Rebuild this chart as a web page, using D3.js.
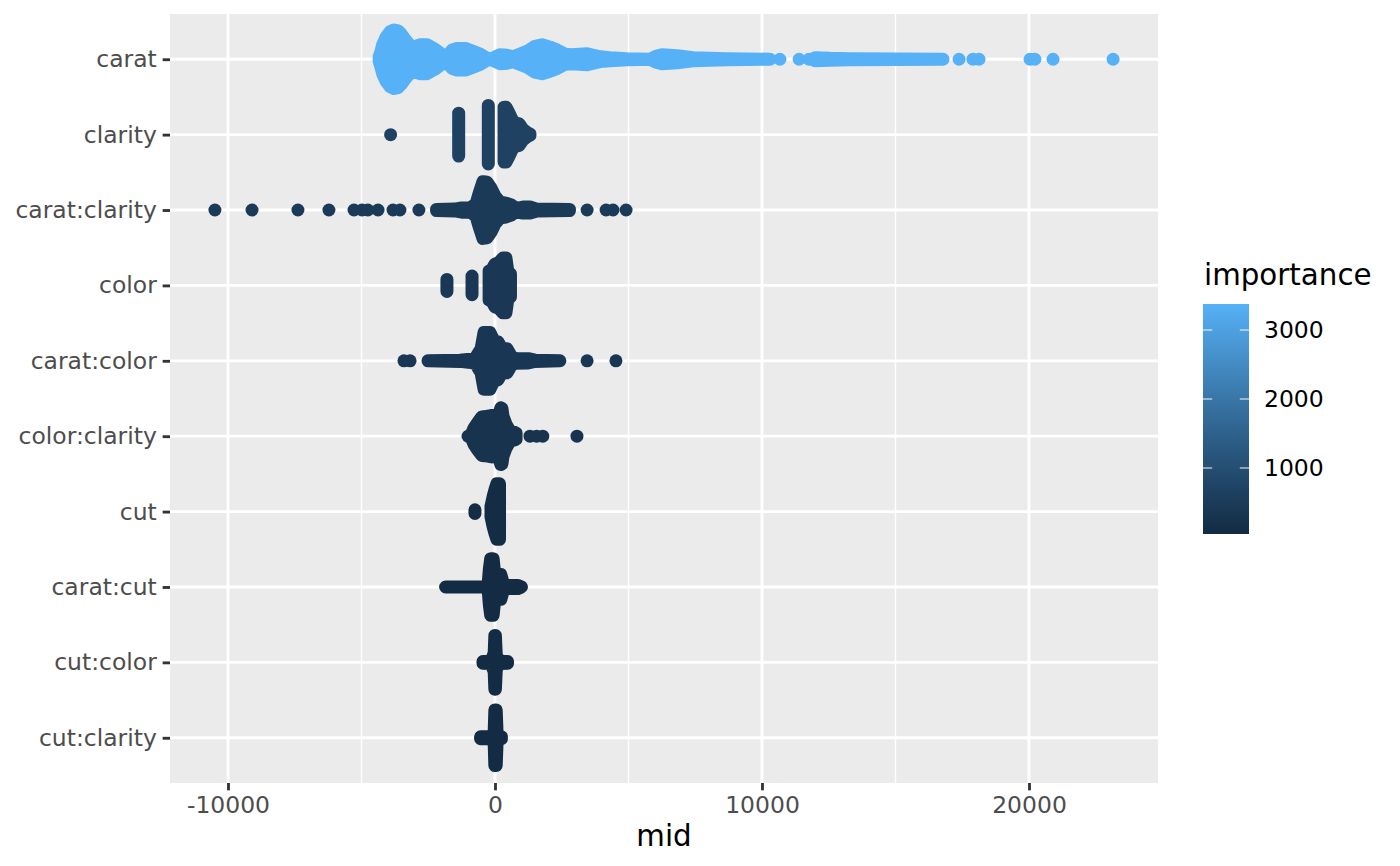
<!DOCTYPE html>
<html>
<head>
<meta charset="utf-8">
<script src="https://cdn.jsdelivr.net/npm/d3@7"></script>
<style>
body { margin: 0; background: #fff; }
text { font-family: "DejaVu Sans", sans-serif; }
</style>
</head>
<body>
<svg width="1400" height="866"></svg>
<script>
const terms = ['carat', 'clarity', 'carat:clarity', 'color', 'carat:color',
    'color:clarity', 'cut', 'carat:cut', 'cut:color', 'cut:clarity'];
const importance = [3377, 690, 470, 420, 390, 280, 95, 70, 50, 43];

// each term: runs of [mid, density]; a run of one entry is a lone point
const carat = [
    [[-4340,7],[-4270,26],[-4200,50],[-4080,73],[-3930,91],[-3780,97],[-3630,94],[-3520,84],
     [-3370,66],[-3180,46],[-3030,41],[-2810,48],[-2550,48],[-2250,33],[-1950,13],[-1760,13],
     [-1610,30],[-1420,36],[-1120,36],[-820,26],[-560,17],[-300,3],[-110,2],[190,15],[450,13],
     [670,8],[940,17],[1200,26],[1500,43],[1760,48],[2060,40],[2320,31],[2620,17],[2880,15],
     [3450,18],[3930,8],[4310,5],[4940,2],[5800,0],[6030,10],[6250,15],[6820,12],[7420,5],
     [8690,2],[10300,0]],
    [[10670,0]], [[11390,0]], [[11760,0]],
    [[11980,5],[12550,3],[13300,2],[16780,0]],
    [[17380,0]], [[17900,0]], [[18130,0]], [[20040,0]], [[20220,0]], [[20900,0]], [[23150,0]]
];
const clarity = [
    [[-3910,0]],
    [[-1360,71],[-1360,71]],
    [[-250,97],[-250,97]],
    [[340,91],[410,91],[520,73],[640,50],[750,38],[900,36],[1050,17],[1200,7],[1310,2]]
];
const caratClarity = [
    [[-10490,0]], [[-9100,0]], [[-7380,0]], [[-6220,0]], [[-5280,0]], [[-4980,0]], [[-4760,0]],
    [[-4380,0]], [[-3820,0]], [[-3560,0]], [[-2850,0]],
    [[-2190,2],[-1500,3],[-1240,7],[-940,7],[-710,20],[-600,54],[-450,94],[-300,92],[-150,73],
     [0,46],[190,26],[410,23],[600,17],[790,5],[1050,10],[1310,10],[1570,3],[2790,2]],
    [[3450,0]], [[4160,0]], [[4420,0]], [[4910,0]]
];
const color = [
    [[-1800,20],[-1800,20]],
    [[-860,31],[-860,31]],
    [[-220,48],[-110,53],[0,71],[150,76],[300,91],[410,91],[490,40],[580,38]]
];
const caratColor = [
    [[-3410,0]], [[-3180,0]],
    [[-2510,0],[-1310,2],[-750,7],[-520,40],[-410,94],[-190,94],[-40,66],[110,63],[260,40],
     [450,40],[600,17],[750,8],[1240,7],[1500,2],[2430,0]],
    [[3450,0]], [[4530,0]]
];
const colorClarity = [
    [[-1010,0],[-900,3],[-790,26],[-640,46],[-490,64],[-260,66],[-110,69],[40,66],[150,73],
     [220,94],[260,92],[300,66],[410,40],[560,17],[750,12],[790,10]],
    [[1310,0]], [[1560,0]], [[1790,0]], [[3070,0]]
];
const cut = [
    [[-750,6],[-750,6]],
    [[-150,17],[-70,50],[0,73],[70,92],[170,92]]
];
const caratCut = [
    [[-1850,0],[-370,0],[-260,5],[-210,60],[-160,94],[-70,94],[-30,60],[30,41],[220,41],
     [300,15],[420,5],[860,5],[990,0]]
];
const cutColor = [
    [[-450,3],[-150,4],[-30,30],[-5,89],[15,89],[50,20],[200,4],[470,3]]
];
const cutClarity = [
    [[-540,3],[-150,3],[-30,20],[-5,92],[45,92],[80,10],[240,3]]
];
const swarms = [carat, clarity, caratClarity, color, caratColor,
    colorClarity, cut, caratCut, cutColor, cutClarity];

const xTicks = [-10000, 0, 10000, 20000];
const xMinor = [-5000, 5000, 15000];
const legendTicks = [1000, 2000, 3000];

var margin = {top: 14, right: 242, bottom: 83, left: 170},
    width = 1400 - margin.left - margin.right,
    height = 866 - margin.top - margin.bottom;

const svg = d3.select('svg');
const pt = 192 / 72;
const r = 6.5;

const render = () => {
    const allMids = swarms.flat(2).map(d => d[0]);
    const [lo, hi] = d3.extent(allMids);
    const pad = (hi - lo) * 0.05;

    const xScale = d3.scaleLinear()
        .domain([lo - pad, hi + pad])
        .range([0, width]);

    const yScale = d3.scalePoint()
        .domain(terms)
        .range([0, height])
        .padding(0.6);

    const spread = d3.scaleLinear()
        .domain([0, 100])
        .range([0, yScale.step() * 0.4]);

    const cScale = d3.scaleLinear()
        .domain(d3.extent(importance))
        .range(['#132B43', '#56B1F7'])
        .interpolate(d3.interpolateLab);

    const g = svg.append('g')
        .attr('transform', `translate(${margin.left},${margin.top})`);

    g.append('rect')
        .attr('width', width)
        .attr('height', height)
        .attr('fill', '#EBEBEB');

    g.selectAll('.minor').data(xMinor).enter().append('line')
        .attr('x1', d => xScale(d)).attr('x2', d => xScale(d))
        .attr('y1', 0).attr('y2', height)
        .attr('stroke', '#fff').attr('stroke-width', 1.42);

    g.selectAll('.vmajor').data(xTicks).enter().append('line')
        .attr('x1', d => xScale(d)).attr('x2', d => xScale(d))
        .attr('y1', 0).attr('y2', height)
        .attr('stroke', '#fff').attr('stroke-width', 2.84);

    g.selectAll('.hmajor').data(terms).enter().append('line')
        .attr('x1', 0).attr('x2', width)
        .attr('y1', d => yScale(d)).attr('y2', d => yScale(d))
        .attr('stroke', '#fff').attr('stroke-width', 2.84);

    const area = d3.area()
        .x(d => xScale(d[0]));

    terms.forEach((term, i) => {
        const yc = yScale(term);
        const col = cScale(importance[i]);
        const row = g.append('g').attr('class', 'swarm');
        const runs = swarms[i];

        area.y0(d => yc - spread(d[1])).y1(d => yc + spread(d[1]));

        row.selectAll('path')
            .data(runs.filter(run => run.length > 1))
            .enter().append('path')
            .attr('d', area)
            .attr('fill', col)
            .attr('stroke', col)
            .attr('stroke-width', 2 * r)
            .attr('stroke-linejoin', 'round')
            .attr('stroke-linecap', 'round');

        row.selectAll('circle')
            .data(runs.filter(run => run.length === 1))
            .enter().append('circle')
            .attr('cx', d => xScale(d[0][0]))
            .attr('cy', yc)
            .attr('r', r)
            .attr('fill', col);
    });

    const xAxis = d3.axisBottom(xScale)
        .tickValues(xTicks)
        .tickFormat(d => String(d))
        .tickSize(2.75 * pt)
        .tickPadding(2.2 * pt);

    const yAxis = d3.axisLeft(yScale)
        .tickSize(2.75 * pt)
        .tickPadding(2.2 * pt);

    const xAxisG = g.append('g').call(xAxis)
        .attr('transform', `translate(0,${height})`);
    const yAxisG = g.append('g').call(yAxis);

    [xAxisG, yAxisG].forEach(a => {
        a.select('.domain').remove();
        a.selectAll('line').attr('stroke', '#333333').attr('stroke-width', 2.84);
        a.selectAll('text')
            .attr('fill', '#4D4D4D')
            .style('font-size', (8.8 * pt) + 'px')
            .style('font-family', '"DejaVu Sans", sans-serif');
    });

    svg.append('text')
        .attr('x', margin.left + width / 2)
        .attr('y', 846)
        .attr('text-anchor', 'middle')
        .attr('fill', '#000')
        .style('font-size', (11 * pt) + 'px')
        .text('mid');

    // colour bar legend
    const barX = 1203, barY = 304, barW = 46, barH = 230;
    const legY = d3.scaleLinear()
        .domain(d3.extent(importance))
        .range([barY + barH, barY]);

    const grad = svg.append('defs').append('linearGradient')
        .attr('id', 'grad')
        .attr('x1', 0).attr('y1', 1).attr('x2', 0).attr('y2', 0);
    grad.selectAll('stop').data(d3.range(0, 1.0001, 0.05)).enter().append('stop')
        .attr('offset', d => d)
        .attr('stop-color', d => cScale(cScale.domain()[0] + d * (cScale.domain()[1] - cScale.domain()[0])));

    svg.append('text')
        .attr('x', 1204)
        .attr('y', 285)
        .attr('fill', '#000')
        .style('font-size', (11 * pt) + 'px')
        .text('importance');

    svg.append('rect')
        .attr('x', barX).attr('y', barY)
        .attr('width', barW).attr('height', barH)
        .attr('fill', 'url(#grad)');

    const lt = svg.append('g').selectAll('g').data(legendTicks).enter().append('g')
        .attr('transform', d => `translate(0,${legY(d)})`);
    lt.append('line')
        .attr('x1', barX).attr('x2', barX + barW / 5)
        .attr('stroke', '#fff').attr('stroke-opacity', 0.8).attr('stroke-width', 1.2);
    lt.append('line')
        .attr('x1', barX + barW * 4 / 5).attr('x2', barX + barW)
        .attr('stroke', '#fff').attr('stroke-opacity', 0.8).attr('stroke-width', 1.2);
    lt.append('text')
        .attr('x', 1264)
        .attr('dy', '0.35em')
        .attr('fill', '#000')
        .style('font-size', (8.8 * pt) + 'px')
        .text(d => d);
};

render();
</script>
</body>
</html>
